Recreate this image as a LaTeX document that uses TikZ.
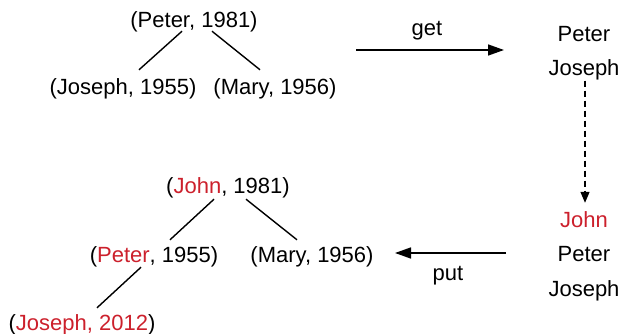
\documentclass[tikz,border=0pt]{standalone}
\usepackage{fontspec}
\setmainfont{Liberation Sans}
\usetikzlibrary{arrows.meta}
\definecolor{hl}{RGB}{204,32,44}
\tikzset{
  lbl/.style={inner sep=0pt, anchor=base, text height=15.5pt, text depth=4.5pt, font=\fontsize{22}{24}\selectfont},
  edge/.style={line width=1.4pt},
  flow/.style={line width=1.5pt, -{Triangle[length=16pt,width=11pt]}},
  dflow/.style={line width=1.3pt, dash pattern=on 6pt off 4pt, -{Triangle[length=11pt,width=9pt]}}
}
\begin{document}
\begin{tikzpicture}[x=1pt,y=-1pt]
\useasboundingbox (0,0) rectangle (623,334);

% original tree
\node[lbl] (r1) at (194,28) {(Peter, 1981)};
\node[lbl] (j1) at (123,95) {(Joseph, 1955)};
\node[lbl] (m1) at (275,95) {(Mary, 1956)};
\draw[edge] ([xshift=-12pt,yshift=1.5pt]r1.south) -- ([xshift=16pt,yshift=9.5pt]j1.north);
\draw[edge] ([xshift=18pt,yshift=1.5pt]r1.south) -- ([xshift=-15pt,yshift=9.5pt]m1.north);

% get: stack of names
\coordinate (gs) at (356,50);
\coordinate (ge) at (504,50);
\draw[flow] (gs) -- (ge);
\node[lbl] (get) at (427,36) {get};
\node[lbl] (sp) at (584,42) {Peter};
\node[lbl] (sj) at (584,76) {Joseph};

% push John
\node[lbl] (jn) at (584,227) {\textcolor{hl}{John}};
\node[lbl] (sp2) at (584,261) {Peter};
\node[lbl] (sj2) at (584,296) {Joseph};
\draw[dflow] ([xshift=1pt]sj.south) -- ([xshift=1pt,yshift=8.5pt]jn.north);

% put back
\coordinate (ps) at (506,253);
\coordinate (pe) at (395,253);
\draw[flow] (ps) -- (pe);
\node[lbl] (put) at (448,280) {put};

% updated tree
\node[lbl] (r2) at (228,193) {(\textcolor{hl}{John}, 1981)};
\node[lbl] (p2) at (154,262) {(\textcolor{hl}{Peter}, 1955)};
\node[lbl] (m2) at (312,262) {(Mary, 1956)};
\node[lbl] (j2) at (82,330) {(\textcolor{hl}{Joseph, 2012})};
\draw[edge] ([xshift=-14pt,yshift=-1.5pt]r2.south) -- ([xshift=16pt,yshift=6.5pt]p2.north);
\draw[edge] ([xshift=18pt,yshift=-1.5pt]r2.south) -- ([xshift=-15pt,yshift=6.5pt]m2.north);
\draw[edge] ([xshift=-13pt,yshift=-0.5pt]p2.south) -- ([xshift=15pt,yshift=6.5pt]j2.north);
\end{tikzpicture}
\end{document}
